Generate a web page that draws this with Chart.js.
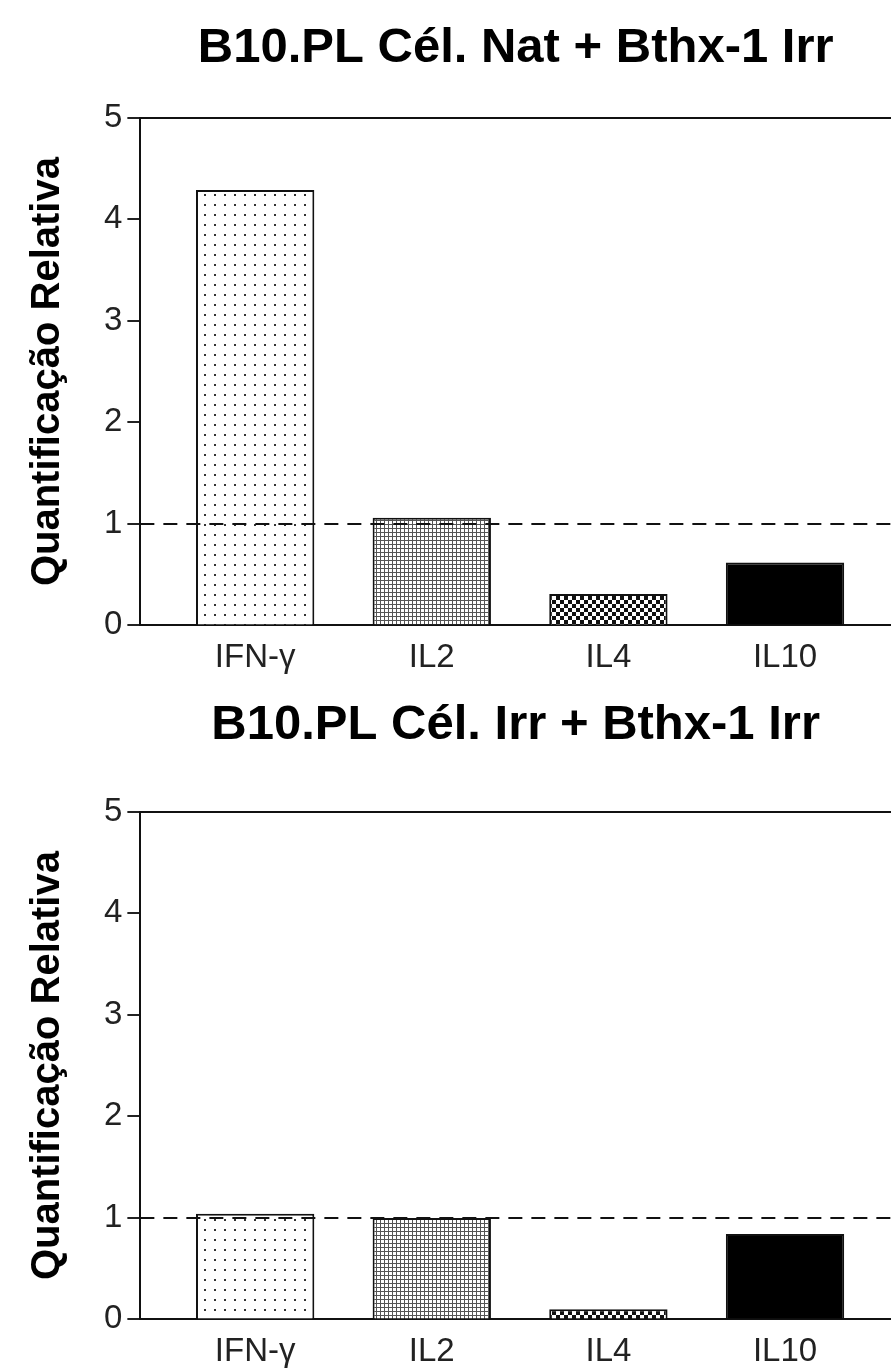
<!DOCTYPE html>
<html>
<head>
<meta charset="utf-8">
<script src="https://cdn.jsdelivr.net/npm/chart.js@4"></script>
<style>
  body { margin: 0; background: #fff; }
  .box { position: relative; width: 891px; }
</style>
</head>
<body>
<div class="box" style="height:695px"><canvas id="chartTop"></canvas></div>
<div class="box" style="height:676px"><canvas id="chartBottom"></canvas></div>
<script>
// categories and values
const cytokines = ['IFN-γ', 'IL2', 'IL4', 'IL10'];
const natValues = [4.29, 1.06, 0.31, 0.62];
const irrValues = [1.04, 1.00, 0.10, 0.84];
const yTicks = [0, 1, 2, 3, 4, 5];
const refLevel = 1;
const titles = ['B10.PL Cél. Nat + Bthx-1 Irr', 'B10.PL Cél. Irr + Bthx-1 Irr'];
const yTitle = 'Quantificação Relativa';

const xMin = 0.35, xMax = 4.6;
const FONT = '"Liberation Sans", Arial, sans-serif';

// fill patterns used for the four bars
function makePattern(size, draw) {
  const c = document.createElement('canvas');
  c.width = size; c.height = size;
  const g = c.getContext('2d');
  g.fillStyle = '#fff';
  g.fillRect(0, 0, size, size);
  draw(g);
  return g.createPattern(c, 'repeat');
}
const dots = makePattern(10, g => { g.fillStyle = '#333'; g.fillRect(4, 4, 2, 2); });
const grid = makePattern(4, g => { g.fillStyle = '#555'; g.fillRect(0, 0, 4, 1); g.fillRect(0, 0, 1, 4); });
const checks = makePattern(8, g => { g.fillStyle = '#111'; g.fillRect(0, 0, 4, 4); g.fillRect(4, 4, 4, 4); });
const fills = [dots, grid, checks, '#000'];

function buildChart(id, title, values, pad) {
  const ctx = document.getElementById(id).getContext('2d');
  return new Chart(ctx, {
    data: {
      datasets: [
        {
          type: 'line',
          order: 0,
          data: [{ x: xMin, y: refLevel }, { x: xMax, y: refLevel }],
          borderColor: '#111',
          borderWidth: 2,
          borderDash: [14, 9],
          pointRadius: 0,
          fill: false
        },
        {
          type: 'bar',
          order: 1,
          data: values.map((v, i) => ({ x: i + 1, y: v })),
          backgroundColor: fills,
          borderColor: '#111',
          borderWidth: 2,
          barPercentage: 1,
          categoryPercentage: 0.67
        }
      ]
    },
    options: {
      responsive: true,
      maintainAspectRatio: false,
      animation: false,
      devicePixelRatio: 1,
      layout: { padding: { top: pad.top, bottom: pad.bottom, left: 0, right: 0 } },
      plugins: {
        legend: { display: false },
        tooltip: { enabled: false },
        title: {
          display: true,
          fullSize: false,
          text: title,
          color: '#000',
          font: { family: FONT, size: 49, weight: 'bold' },
          padding: { top: 0, bottom: pad.title }
        }
      },
      scales: {
        x: {
          type: 'linear',
          offset: false,
          min: xMin,
          max: xMax,
          afterBuildTicks: scale => { scale.ticks = cytokines.map((c, i) => ({ value: i + 1 })); },
          ticks: {
            callback: v => cytokines[v - 1],
            color: '#222',
            font: { family: FONT, size: 33 },
            padding: 13,
            maxRotation: 0
          },
          grid: { display: false, drawTicks: false },
          border: { color: '#111', width: 2 }
        },
        y: {
          min: yTicks[0],
          max: yTicks[yTicks.length - 1],
          afterBuildTicks: scale => { scale.ticks = yTicks.map(v => ({ value: v })); },
          ticks: {
            color: '#222',
            font: { family: FONT, size: 33 },
            padding: 5
          },
          grid: {
            color: c => c.tick && c.tick.value === 5 ? '#111' : 'rgba(0,0,0,0)',
            lineWidth: 2,
            tickColor: '#222',
            tickLength: 13,
            tickWidth: 2
          },
          border: { color: '#111', width: 2 },
          title: {
            display: true,
            text: yTitle,
            color: '#000',
            font: { family: FONT, size: 40, weight: 'bold' },
            padding: { top: 24, bottom: 27 }
          }
        }
      }
    }
  });
}

buildChart('chartTop', titles[0], natValues, { top: 19, bottom: 4, title: 40 });
buildChart('chartBottom', titles[1], irrValues, { top: 1, bottom: -14, title: 57 });
</script>
</body>
</html>
